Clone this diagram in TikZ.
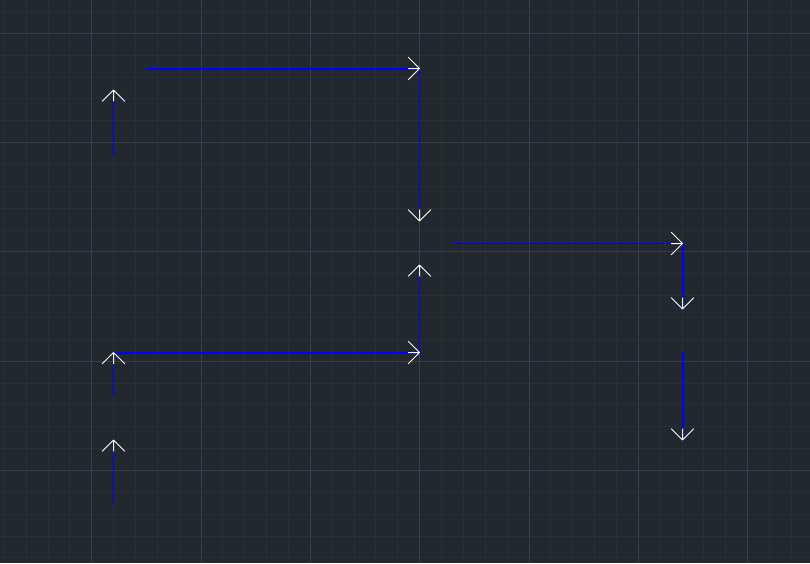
\documentclass[tikz,border=0pt]{standalone}
\definecolor{cadbg}{RGB}{33,40,48}
\definecolor{cadminor}{RGB}{40,47,57}
\definecolor{cadmajor}{RGB}{57,64,77}
\definecolor{cadblue}{RGB}{0,0,255}
\tikzset{
  thinline/.style={draw=cadblue, line width=0.9pt},
  thickline/.style={draw=cadblue, line width=2pt},
  headline/.style={draw=white, line width=1pt},
  cadhead/.pic={\draw[headline] (0,0) -- (-11.3,11.3) (0,0) -- (-11.3,-11.3) (0,0) -- (-11.3,0);},
}
\begin{document}
\begin{tikzpicture}[x=1pt,y=-1pt]
\fill[cadbg] (0,0) rectangle (810,563);
\useasboundingbox (0,0) rectangle (810,563);
% minor grid
\foreach \i in {0,...,37} {
  \pgfmathsetmacro\gx{4.36+21.86*\i}
  \draw[cadminor, line width=1pt] (\gx,0) -- (\gx,563);
}
\foreach \i in {0,...,25} {
  \pgfmathsetmacro\gy{11.44+21.86*\i}
  \draw[cadminor, line width=1pt] (0,\gy) -- (810,\gy);
}
% major grid
\foreach \i in {0,...,6} {
  \pgfmathsetmacro\gx{91.8+109.3*\i}
  \draw[cadmajor, line width=1pt] (\gx,0) -- (\gx,563);
}
\foreach \i in {0,...,4} {
  \pgfmathsetmacro\gy{33.3+109.3*\i}
  \draw[cadmajor, line width=1pt] (0,\gy) -- (810,\gy);
}
% endpoints
\coordinate (a1) at (113.5,156); \coordinate (a2) at (113.5,90);
\coordinate (b1) at (146,68.5);  \coordinate (b2) at (419.5,68.5);
\coordinate (c1) at (419.5,68.5);  \coordinate (c2) at (419.5,221);
\coordinate (d1) at (419.5,352.5); \coordinate (d2) at (419.5,265);
\coordinate (e1) at (113.5,352.5); \coordinate (e2) at (419.5,352.5);
\coordinate (f1) at (113.5,397); \coordinate (f2) at (113.5,352.5);
\coordinate (g1) at (113.5,505); \coordinate (g2) at (113.5,440);
\coordinate (h1) at (452,243.5); \coordinate (h2) at (682.5,243.5);
\coordinate (i1) at (682.5,243.5); \coordinate (i2) at (682.5,309);
\coordinate (j1) at (682.5,352); \coordinate (j2) at (682.5,440);
% lines
\draw[thinline] (a1) -- (a2);
\draw[thickline] (b1) -- (b2);
\draw[thinline] (c1) -- (c2);
\draw[thinline] (d1) -- (d2);
\draw[thickline] (e1) -- (e2);
\draw[thinline] (f1) -- (f2);
\draw[thinline] (g1) -- (g2);
\draw[thinline] (h1) -- (h2);
\draw[thickline] (i1) -- (i2);
\draw[thickline] (j1) -- (j2);
% arrowheads
\pic[rotate=90] at (a2) {cadhead};
\pic at (b2) {cadhead};
\pic[rotate=-90] at (c2) {cadhead};
\pic[rotate=90] at (d2) {cadhead};
\pic at (e2) {cadhead};
\pic[rotate=90] at (f2) {cadhead};
\pic[rotate=90] at (g2) {cadhead};
\pic at (h2) {cadhead};
\pic[rotate=-90] at (i2) {cadhead};
\pic[rotate=-90] at (j2) {cadhead};
\end{tikzpicture}
\end{document}
